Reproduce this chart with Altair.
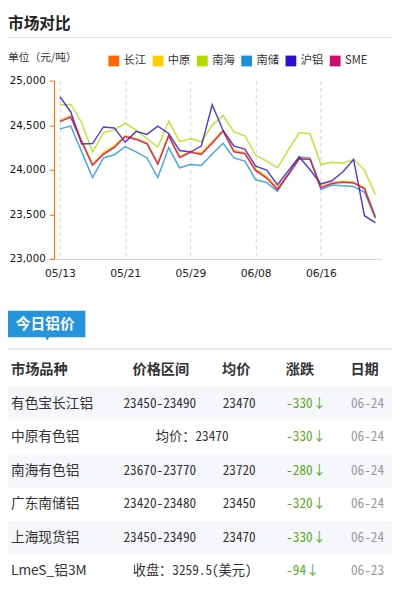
import altair as alt
import pandas as pd

# ---------------- data ----------------
chart_title = "市场对比"
unit_label = "单位（元/吨）"
series_names = ["长江", "中原", "南海", "南储", "沪铝", "SME"]
series_colors = ["#FF6600", "#FFCC00", "#B3DB00", "#1C91D8", "#2B10CC", "#CC0F6A"]

tick_index = [0, 6, 12, 18, 24]
tick_labels = ["05/13", "05/21", "05/29", "06/08", "06/16"]
y_ticks = [23000, 23500, 24000, 24500, 25000]

changjiang = [24546, 24595, 24320, 24055, 24178, 24257, 24377, 24345, 24297, 24069,
              24385, 24141, 24200, 24176, 24304, 24440, 24205, 24185, 23996, 23912,
              23784, 23949, 24125, 24121, 23802, 23850, 23865, 23857, 23791, 23470]
zhongyuan = [24550, 24612, 24330, 24062, 24195, 24270, 24380, 24350, 24300, 24075,
             24390, 24150, 24205, 24190, 24320, 24445, 24215, 24195, 24010, 23925,
             23800, 23955, 24130, 24125, 23810, 23855, 23870, 23860, 23800, 23470]
nanhai = [24729, 24729, 24530, 24198, 24414, 24447, 24524, 24445, 24350, 24253,
          24546, 24315, 24348, 24315, 24498, 24608, 24425, 24381, 24162, 24096,
          24022, 24223, 24414, 24403, 24058, 24084, 24073, 24114, 23996, 23720]
nanchu = [24458, 24489, 24200, 23912, 24132, 24168, 24260, 24200, 24132, 23912,
          24249, 24022, 24059, 24047, 24176, 24297, 24132, 24096, 23887, 23857,
          23758, 23956, 24143, 24130, 23777, 23828, 23821, 23813, 23747, 23452]
hulv = [24819, 24648, 24289, 24293, 24480, 24469, 24310, 24430, 24396, 24489,
        24407, 24216, 24198, 24265, 24729, 24440, 24264, 24231, 24040, 23996,
        23832, 23990, 24143, 24000, 23839, 23876, 23975, 24114, 23484, 23407]
sme = [24540, 24590, 24315, 24050, 24172, 24250, 24372, 24340, 24292, 24062,
       24380, 24136, 24195, 24170, 24298, 24435, 24200, 24180, 23990, 23906,
       23778, 23944, 24120, 24116, 23797, 23845, 23860, 23852, 23786, 23466]

box_label = "今日铝价"
header = ["市场品种", "价格区间", "均价", "涨跌", "日期"]
table_names = ["有色宝长江铝", "中原有色铝", "南海有色铝", "广东南储铝", "上海现货铝", "LmeS_铝3M"]
table_range = ["23450-23490", "", "23670-23770", "23420-23480", "23450-23490", ""]
table_avg = ["23470", "", "23720", "23450", "23470", ""]
table_merged = ["", "均价：23470", "", "", "", "收盘：3259.5(美元)"]
table_change = ["-330", "-330", "-280", "-320", "-330", "-94"]
table_date = ["06-24", "06-24", "06-24", "06-24", "06-24", "06-23"]

# ---------------- frames ----------------
recs = []
for name, vals in zip(series_names, [changjiang, zhongyuan, nanhai, nanchu, hulv, sme]):
    for i, v in enumerate(vals):
        recs.append({"series": name, "i": i, "price": v})
line_df = pd.DataFrame(recs)
legend_df = pd.DataFrame({"series": series_names})

table_df = pd.DataFrame({
    "row": list(range(len(table_names))),
    "name": table_names,
    "range": table_range,
    "avg": table_avg,
    "merged": table_merged,
    "change": [c + "↓" for c in table_change],
    "date": table_date,
})
header_df = pd.DataFrame({"row": [-1] * len(header), "h": header, "k": list(range(len(header)))})
bg_df = pd.DataFrame({"row": [0, 2, 4]})
one = pd.DataFrame({"t": [box_label]})

CJK = "Noto Sans CJK SC"
MONO = "'Noto Sans Mono CJK SC', 'DejaVu Sans Mono', 'Noto Sans CJK SC'"

# ---------------- chart ----------------
label_expr = ("[" + ",".join(f"'{s}'" for s in tick_labels) + "][indexof(["
              + ",".join(str(k) for k in tick_index) + "], datum.value)]")

color_scale = alt.Scale(domain=series_names, range=series_colors)

lines = alt.Chart(line_df).mark_line(strokeWidth=1.5, opacity=0.8).encode(
    x=alt.X("i:Q",
            scale=alt.Scale(domain=[-0.54, 29.54], nice=False, zero=False),
            axis=alt.Axis(values=tick_index, labelExpr=label_expr, grid=True,
                          gridDash=[4, 3], gridColor="#d6d6d6", ticks=False,
                          domainColor="#d0d0d0", labelFontSize=11, labelFont="DejaVu Sans",
                          labelColor="#222", labelPadding=9, title=None)),
    y=alt.Y("price:Q",
            scale=alt.Scale(domain=[23000, 25000], nice=False, zero=False),
            axis=alt.Axis(values=y_ticks, labelExpr="format(datum.value, ',.0f')",
                          grid=False, domainColor="#FF6600",
                          tickColor="#FF6600", tickSize=5, labelFontSize=10.5,
                          labelFont="DejaVu Sans", labelColor="#111", labelPadding=4,
                          title=None)),
    color=alt.Color("series:N", scale=color_scale, legend=None),
)

legend_x = alt.X("series:N", scale=alt.Scale(type="point", domain=series_names,
                                             range=[61, 287], padding=0), axis=None)
legend_sq = alt.Chart(legend_df).mark_square(size=121, opacity=1).encode(
    x=legend_x, y=alt.value(-20),
    color=alt.Color("series:N", scale=color_scale, legend=None))
legend_tx = alt.Chart(legend_df).mark_text(align="left", baseline="middle", dx=10,
                                           fontSize=11.5, font=CJK, color="#333").encode(
    x=legend_x, y=alt.value(-20), text="series:N")

row_scale = alt.Scale(domain=[0, 5], range=[330, 501], nice=False, zero=False)

bg = alt.Chart(bg_df).transform_calculate(
    y0="datum.row - 0.5", y1="datum.row + 0.5"
).mark_rect(color="#f5f7fa").encode(
    x=alt.value(-47), x2=alt.value(345),
    y=alt.Y("y0:Q", scale=row_scale, axis=None), y2="y1:Q",
)

title = alt.Chart(one).mark_text(align="left", baseline="middle", fontSize=16,
                                 fontWeight="bold", font=CJK, color="#222").encode(
    x=alt.value(-47), y=alt.value(-58), text=alt.value(chart_title))
top_rule = alt.Chart(one).mark_rule(color="#e8e8e8").encode(
    x=alt.value(-47), x2=alt.value(345), y=alt.value(-44))
unit = alt.Chart(one).mark_text(align="left", baseline="middle", fontSize=11,
                                font=CJK, color="#333").encode(
    x=alt.value(-47), y=alt.value(-23), text=alt.value(unit_label))

box = alt.Chart(one).mark_rect(color="#2594dc").encode(
    x=alt.value(-47), x2=alt.value(32), y=alt.value(235), y2=alt.value(262))
pointer = alt.Chart(one).mark_point(shape="triangle-down", filled=True, size=30,
                                    color="#2594dc", opacity=1).encode(
    x=alt.value(-7), y=alt.value(263))
box_text = alt.Chart(one).mark_text(align="center", baseline="middle", fontSize=15,
                                    fontWeight="bold", font=CJK, color="white").encode(
    x=alt.value(-9), y=alt.value(248.5), text="t:N")
mid_rule = alt.Chart(one).mark_rule(color="#dce5ee", strokeWidth=1.5).encode(
    x=alt.value(-47), x2=alt.value(345), y=alt.value(274))

header_x = [-44, 109, 186, 251, 317]
header_align = ["left", "center", "center", "center", "center"]
header_layers = []
for k in range(len(header)):
    header_layers.append(
        alt.Chart(header_df).transform_filter(f"datum.k == {k}").mark_text(
            align=header_align[k], baseline="middle", fontSize=14.5, fontWeight="bold",
            font=CJK, color="#333").encode(
            x=alt.value(header_x[k]), y=alt.Y("row:Q", scale=row_scale, axis=None),
            text="h:N"))


def col(field, x, align, color, size, font):
    return alt.Chart(table_df).mark_text(align=align, baseline="middle", fontSize=size,
                                         font=font, color=color).encode(
        x=alt.value(x), y=alt.Y("row:Q", scale=row_scale, axis=None), text=f"{field}:N")


cols = [
    col("name", -44, "left", "#333", 14, CJK),
    col("range", 108, "center", "#333", 13.5, MONO),
    col("avg", 189, "center", "#333", 13.5, MONO),
    col("merged", 141, "center", "#333", 13.5, MONO),
    col("change", 237, "left", "#5aa81c", 13.5, MONO),
    col("date", 320, "center", "#999", 13.5, MONO),
]

chart = alt.layer(
    bg, title, top_rule, unit, box, pointer, box_text, mid_rule, lines,
    legend_sq, legend_tx, *header_layers, *cols
).resolve_scale(y="independent", x="independent").properties(
    width=334, height=182,
    padding={"left": 47, "top": 68, "right": 11, "bottom": 335},
    autosize=alt.AutoSizeParams(type="none"),
).configure_view(stroke=None)

chart.save("out.html", embed_options={"renderer": "svg", "actions": False})
